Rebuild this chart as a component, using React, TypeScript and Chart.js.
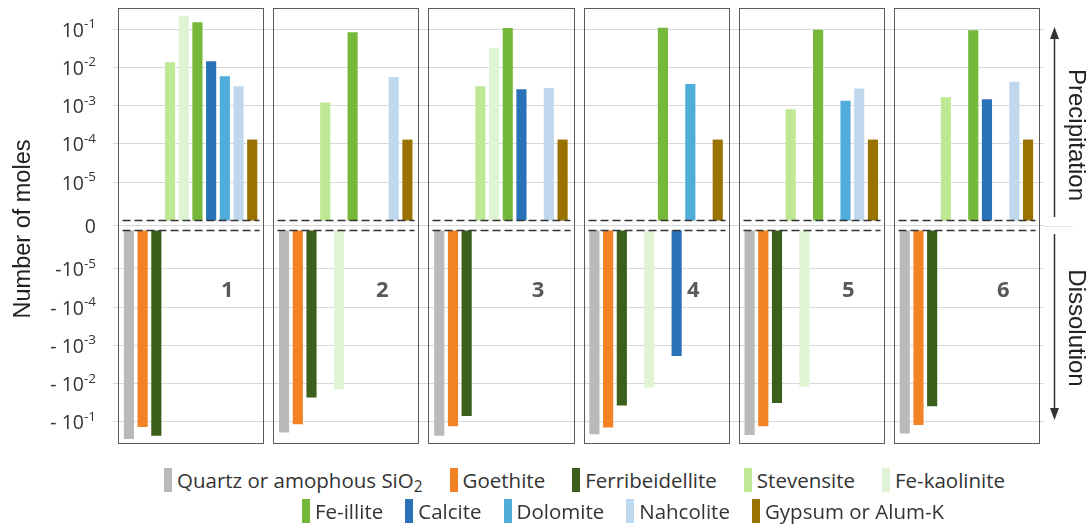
import React, { useEffect, useRef } from 'react';
import { Chart, registerables } from 'chart.js';

Chart.register(...registerables);

// ---------- data ----------
const panels = ['1', '2', '3', '4', '5', '6'];

const mineralNames = [
  'Quartz or amophous SiO₂',
  'Goethite',
  'Ferribeidellite',
  'Stevensite',
  'Fe-kaolinite',
  'Fe-illite',
  'Calcite',
  'Dolomite',
  'Nahcolite',
  'Gypsum or Alum-K',
];

const mineralColors = [
  '#BABABA',
  '#F28223',
  '#3A601C',
  '#BFE894',
  '#DFF4D4',
  '#76B83A',
  '#2A72B8',
  '#50ADDA',
  '#BFD8EE',
  '#9A7200',
];

// Number of moles per panel (positive = precipitation, negative = dissolution)
const quartz = [-0.28, -0.19, -0.23, -0.21, -0.22, -0.2];
const goethite = [-0.135, -0.115, -0.13, -0.14, -0.13, -0.12];
const ferribeidellite = [-0.23, -0.023, -0.07, -0.037, -0.032, -0.039];
const stevensite = [0.0135, 0.0012, 0.0032, null, 0.00081, 0.00166];
const feKaolinite = [0.22, -0.014, 0.032, -0.0126, -0.012, null];
const feIllite = [0.15, 0.083, 0.106, 0.108, 0.096, 0.093];
const calcite = [0.0144, null, 0.0027, -0.0019, null, 0.00148];
const dolomite = [0.0059, null, null, 0.0037, 0.00135, null];
const nahcolite = [0.0032, 0.0056, 0.0029, null, 0.0028, 0.0042];
const gypsum = [0.00013, 0.00013, 0.00013, 0.00013, 0.00013, 0.00013];

const seriesValues = [
  quartz, goethite, ferribeidellite, stevensite, feKaolinite,
  feIllite, calcite, dolomite, nahcolite, gypsum,
];

const yTickValues = [1e-1, 1e-2, 1e-3, 1e-4, 1e-5, 0, -1e-5, -1e-4, -1e-3, -1e-2, -1e-1];
const yTickBase = ['10', '10', '10', '10', '10', '0', '-10', '- 10', '- 10', '- 10', '- 10'];
const yTickExp = ['-1', '-2', '-3', '-4', '-5', '', '-5', '-4', '-3', '-2', '-1'];

// ---------- symmetric log transform ----------
const GAP = 0.13; // half gap around zero (in decades)
const FLOOR = 6; // 10^-6 sits on the dashed baseline
const toPos = (v: number) => {
  if (v === 0) return 0;
  const m = Math.log10(Math.abs(v)) + FLOOR + GAP;
  return v > 0 ? m : -m;
};
const Y_LIMIT = 5.68;

const overlayPlugin = {
  id: 'overlay',
  afterDatasetsDraw(chart: any) {
    const ctx = chart.ctx as CanvasRenderingContext2D;
    const xs = chart.scales.x;
    const ys = chart.scales.y;
    const area = chart.chartArea;
    const pitch = xs.getPixelForValue(1) - xs.getPixelForValue(0);
    const half = pitch / 2 - 5;
    const yTopBase = ys.getPixelForValue(GAP);
    const yBotBase = ys.getPixelForValue(-GAP);
    const yNumberBaseline = ys.getPixelForValue(toPos(-1e-4)) - 10;
    ctx.save();
    panels.forEach((p, i) => {
      const cx = xs.getPixelForValue(i);
      const l = Math.round(cx - half) + 0.5;
      const r = Math.round(cx + half) + 0.5;
      // dashed baselines
      ctx.strokeStyle = '#333';
      ctx.lineWidth = 1.5;
      ctx.setLineDash([8, 4]);
      ctx.beginPath();
      ctx.moveTo(l + 4, yTopBase);
      ctx.lineTo(r - 4, yTopBase);
      ctx.moveTo(l + 4, yBotBase);
      ctx.lineTo(r - 4, yBotBase);
      ctx.stroke();
      ctx.setLineDash([]);
      // panel frame
      ctx.strokeStyle = '#5a5a5a';
      ctx.lineWidth = 1;
      ctx.strokeRect(l, Math.round(area.top) + 0.5, r - l, Math.round(area.bottom - area.top));
      // panel number
      ctx.fillStyle = '#595959';
      ctx.font = 'bold 22px "Open Sans"';
      ctx.textAlign = 'center';
      ctx.textBaseline = 'alphabetic';
      ctx.fillText(p, l + (r - l) * 0.75, yNumberBaseline);
    });

    // y tick labels with superscripts
    const right = 96;
    ctx.fillStyle = '#333';
    ctx.textBaseline = 'alphabetic';
    yTickValues.forEach((v, i) => {
      const py = ys.getPixelForValue(toPos(v));
      ctx.font = '13.5px "Open Sans"';
      const ew = yTickExp[i] ? ctx.measureText(yTickExp[i]).width : 0;
      ctx.textAlign = 'left';
      if (yTickExp[i]) ctx.fillText(yTickExp[i], right - ew, py - 1);
      ctx.font = '19.5px "Open Sans"';
      ctx.textAlign = 'right';
      ctx.fillText(yTickBase[i], right - ew, py + 7.5);
    });

    // y axis title
    ctx.fillStyle = '#222';
    ctx.font = '23.5px "Liberation Sans"';
    ctx.textAlign = 'center';
    ctx.textBaseline = 'middle';
    ctx.save();
    ctx.translate(24, 229);
    ctx.rotate(-Math.PI / 2);
    ctx.fillText('Number of moles', 0, 0);
    ctx.restore();

    // right side arrows and labels
    const ax = 1054.5;
    const yZero = ys.getPixelForValue(0);
    ctx.strokeStyle = '#e3e3e3';
    ctx.lineWidth = 1;
    ctx.beginPath();
    ctx.moveTo(area.right, Math.round(yZero) + 0.5);
    ctx.lineTo(1073, Math.round(yZero) + 0.5);
    ctx.stroke();
    ctx.strokeStyle = '#333';
    ctx.fillStyle = '#333';
    ctx.lineWidth = 1.5;
    ctx.beginPath();
    ctx.moveTo(ax, 217);
    ctx.lineTo(ax, 36);
    ctx.moveTo(ax, 234);
    ctx.lineTo(ax, 411);
    ctx.stroke();
    ctx.beginPath();
    ctx.moveTo(ax, 27);
    ctx.lineTo(ax - 4.5, 39);
    ctx.lineTo(ax + 4.5, 39);
    ctx.closePath();
    ctx.fill();
    ctx.beginPath();
    ctx.moveTo(ax, 420);
    ctx.lineTo(ax - 4.5, 408);
    ctx.lineTo(ax + 4.5, 408);
    ctx.closePath();
    ctx.fill();

    ctx.fillStyle = '#222';
    ctx.font = '24px "Liberation Sans"';
    ctx.textAlign = 'center';
    ctx.textBaseline = 'middle';
    [['Precipitation', 135], ['Dissolution', 328]].forEach(([t, cy]) => {
      ctx.save();
      ctx.translate(1076, cy as number);
      ctx.rotate(Math.PI / 2);
      ctx.fillText(t as string, 0, 0);
      ctx.restore();
    });
    ctx.restore();
  },
};

const renderName = (name: string) => {
  const parts = name.split('₂');
  if (parts.length === 1) return name;
  return (
    <>
      {parts[0]}
      <sub style={{ fontSize: '0.75em', verticalAlign: '-0.25em', lineHeight: 0 }}>2</sub>
      {parts[1]}
    </>
  );
};

const LegendRow = ({ start, end, top, left, gap }: { start: number; end: number; top: number; left: number; gap: number }) => (
  <div
    style={{
      position: 'absolute',
      left,
      top,
      height: 28,
      display: 'flex',
      alignItems: 'center',
      gap,
      fontFamily: '"Open Sans", sans-serif',
      fontSize: 20.5,
      color: '#333',
      whiteSpace: 'nowrap',
    }}
  >
    {mineralNames.slice(start, end).map((n, k) => (
      <div key={n} style={{ display: 'flex', alignItems: 'center' }}>
        <span
          style={{
            display: 'inline-block',
            width: 8,
            height: 24,
            background: mineralColors[start + k],
            marginRight: 5,
          }}
        />
        <span>{renderName(n)}</span>
      </div>
    ))}
  </div>
);

export default function App() {
  const canvasRef = useRef<HTMLCanvasElement>(null);

  useEffect(() => {
    const canvas = canvasRef.current;
    if (!canvas) return;
    const datasets = seriesValues.map((vals, i) => ({
      label: mineralNames[i],
      data: vals.map((v) => (v == null ? null : [v > 0 ? GAP : -GAP, toPos(v)])),
      backgroundColor: mineralColors[i],
      borderWidth: 0,
      categoryPercentage: 0.883,
      barPercentage: 0.74,
    }));
    const chart = new Chart(canvas, {
      type: 'bar',
      data: { labels: panels, datasets: datasets as any },
      options: {
        animation: false,
        responsive: false,
        devicePixelRatio: 1,
        layout: { padding: { left: 113, right: 45, top: 8, bottom: 12 } },
        plugins: { legend: { display: false }, tooltip: { enabled: false } },
        scales: {
          x: { display: false },
          y: {
            min: -Y_LIMIT,
            max: Y_LIMIT,
            afterBuildTicks: (scale: any) => {
              scale.ticks = yTickValues.map((v) => ({ value: toPos(v) }));
            },
            afterFit: (scale: any) => {
              scale.width = 0;
            },
            ticks: { display: false },
            border: { display: false },
            grid: { color: '#d9d9d9', lineWidth: 1, drawTicks: false },
          },
        },
      },
      plugins: [overlayPlugin],
    });
    return () => chart.destroy();
  }, []);

  return (
    <div style={{ position: 'fixed', left: 0, top: 0, width: 1089, height: 524, background: '#fff' }}>
      <canvas ref={canvasRef} width={1089} height={455} style={{ position: 'absolute', left: 0, top: 0 }} />
      <LegendRow start={0} end={5} top={466} left={164} gap={27} />
      <LegendRow start={5} end={10} top={497} left={302} gap={22} />
    </div>
  );
}
